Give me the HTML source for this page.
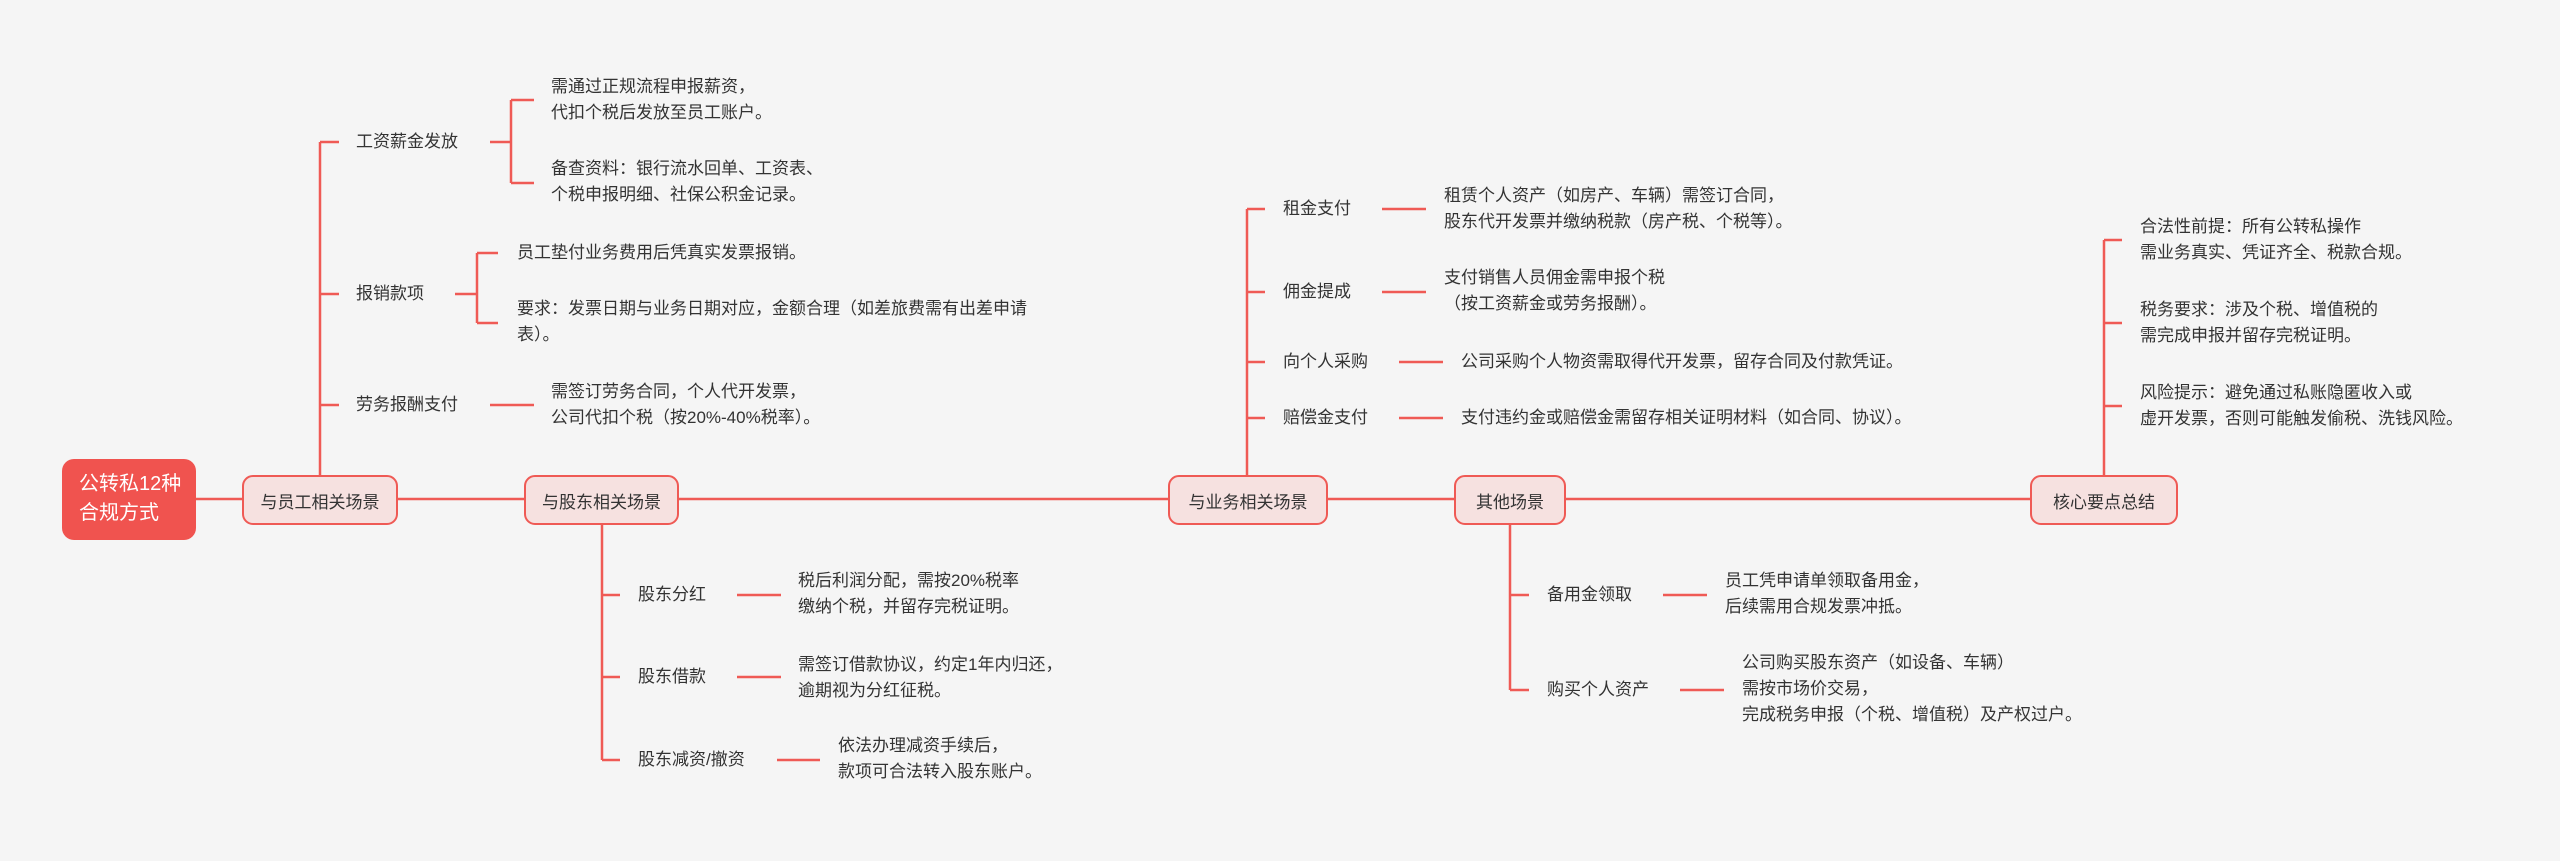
<!DOCTYPE html>
<html><head><meta charset="utf-8"><style>
html,body{margin:0;padding:0}
body{width:2560px;height:861px;background:#f5f5f5;position:relative;overflow:hidden;font-family:"Liberation Sans","Noto Sans CJK SC",sans-serif;color:#333}
.t{position:absolute;font-size:17px;line-height:26px;white-space:nowrap}
.b{position:absolute;box-sizing:border-box;background:#f6e1e0;border:2px solid #ef5a55;border-radius:11px;font-size:17px;display:flex;align-items:center;justify-content:center;color:#333}
svg{position:absolute;left:0;top:0}
</style></head><body>
<svg width="2560" height="861" fill="none" stroke="#ef5a55" stroke-width="2.5">
<path d="M196 499H2030"/>
<path d="M320 475V142M320 142H339M320 294H339M320 405H339"/>
<path d="M490 142H511M511 100V183M511 100H534M511 183H534"/>
<path d="M455 294H477M477 253V323M477 253H498M477 323H498"/>
<path d="M490 405H534"/>
<path d="M602 525V760M602 595H620M602 677H620M602 760H620M737 595H781M737 677H781M777 760H820"/>
<path d="M1247 475V209M1247 209H1265M1247 292H1265M1247 362H1265M1247 418H1265M1382 209H1426M1382 292H1426M1399 362H1443M1399 418H1443"/>
<path d="M1510 525V690M1510 595H1529M1510 690H1529M1663 595H1707M1680 690H1724"/>
<path d="M2104 476V240M2104 240H2122M2104 323H2122M2104 406H2122"/>
</svg>
<div style="position:absolute;left:62px;top:459px;width:134px;height:81px;background:#f0534f;border-radius:12px;color:#fff;font-size:20px;line-height:29px;box-sizing:border-box;padding:11px 0 0 17px">公转私12种<br>合规方式</div>
<div class="b" style="left:242px;top:475px;width:156px;height:50px">与员工相关场景</div>
<div class="b" style="left:524px;top:475px;width:155px;height:50px">与股东相关场景</div>
<div class="b" style="left:1168px;top:475px;width:160px;height:50px">与业务相关场景</div>
<div class="b" style="left:1454px;top:475px;width:112px;height:50px">其他场景</div>
<div class="b" style="left:2030px;top:475px;width:148px;height:50px">核心要点总结</div>

<div class="t" style="left:356px;top:129px">工资薪金发放</div>
<div class="t" style="left:356px;top:281px">报销款项</div>
<div class="t" style="left:356px;top:392px">劳务报酬支付</div>
<div class="t" style="left:551px;top:74px">需通过正规流程申报薪资，<br>代扣个税后发放至员工账户。</div>
<div class="t" style="left:551px;top:156px">备查资料：银行流水回单、工资表、<br>个税申报明细、社保公积金记录。</div>
<div class="t" style="left:517px;top:240px">员工垫付业务费用后凭真实发票报销。</div>
<div class="t" style="left:517px;top:296px">要求：发票日期与业务日期对应，金额合理（如差旅费需有出差申请<br>表）。</div>
<div class="t" style="left:551px;top:379px">需签订劳务合同，个人代开发票，<br>公司代扣个税（按20%-40%税率）。</div>

<div class="t" style="left:638px;top:582px">股东分红</div>
<div class="t" style="left:638px;top:664px">股东借款</div>
<div class="t" style="left:638px;top:747px">股东减资/撤资</div>
<div class="t" style="left:798px;top:568px">税后利润分配，需按20%税率<br>缴纳个税，并留存完税证明。</div>
<div class="t" style="left:798px;top:652px">需签订借款协议，约定1年内归还，<br>逾期视为分红征税。</div>
<div class="t" style="left:838px;top:733px">依法办理减资手续后，<br>款项可合法转入股东账户。</div>

<div class="t" style="left:1283px;top:196px">租金支付</div>
<div class="t" style="left:1283px;top:279px">佣金提成</div>
<div class="t" style="left:1283px;top:349px">向个人采购</div>
<div class="t" style="left:1283px;top:405px">赔偿金支付</div>
<div class="t" style="left:1444px;top:183px">租赁个人资产（如房产、车辆）需签订合同，<br>股东代开发票并缴纳税款（房产税、个税等）。</div>
<div class="t" style="left:1444px;top:265px">支付销售人员佣金需申报个税<br>（按工资薪金或劳务报酬）。</div>
<div class="t" style="left:1461px;top:349px">公司采购个人物资需取得代开发票，留存合同及付款凭证。</div>
<div class="t" style="left:1461px;top:405px">支付违约金或赔偿金需留存相关证明材料（如合同、协议）。</div>

<div class="t" style="left:1547px;top:582px">备用金领取</div>
<div class="t" style="left:1547px;top:677px">购买个人资产</div>
<div class="t" style="left:1725px;top:568px">员工凭申请单领取备用金，<br>后续需用合规发票冲抵。</div>
<div class="t" style="left:1742px;top:650px">公司购买股东资产（如设备、车辆）<br>需按市场价交易，<br>完成税务申报（个税、增值税）及产权过户。</div>

<div class="t" style="left:2140px;top:214px">合法性前提：所有公转私操作<br>需业务真实、凭证齐全、税款合规。</div>
<div class="t" style="left:2140px;top:297px">税务要求：涉及个税、增值税的<br>需完成申报并留存完税证明。</div>
<div class="t" style="left:2140px;top:380px">风险提示：避免通过私账隐匿收入或<br>虚开发票，否则可能触发偷税、洗钱风险。</div>
</body></html>
